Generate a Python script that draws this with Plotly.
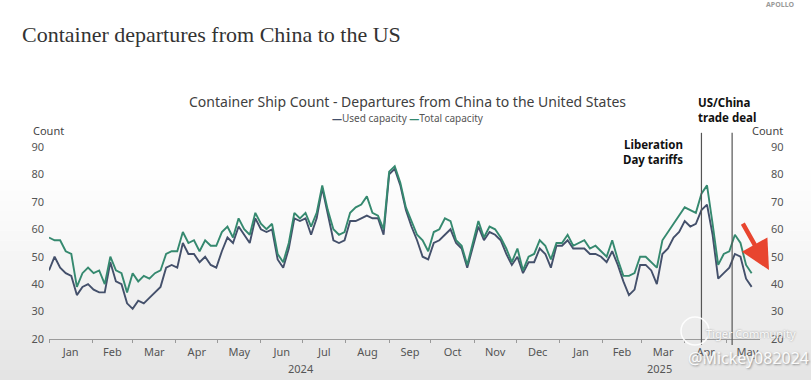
import pandas as pd
import plotly.graph_objects as go

# ---------------- data (4-day steps) ----------------
start_date = "2024-01-01"
n_points = 127
dates = pd.date_range(start_date, periods=n_points, freq="4D")

total_capacity = [
    57, 56, 56, 52, 51, 39, 44, 46, 44, 45, 40, 50, 45, 44, 37, 44, 41, 43, 42, 44,
    45, 51, 52, 52, 59, 55, 56, 52, 56, 54, 54, 59, 61, 57, 64, 60, 58, 66, 62, 60,
    62, 51, 48, 55, 66, 64, 66, 61, 66, 76, 67, 60, 58, 59, 66, 68, 69, 72, 66, 65,
    60, 81, 83, 77, 68, 63, 58, 56, 52, 59, 60, 64, 63, 56, 54, 47, 55, 63, 57, 61,
    60, 57, 53, 48, 53, 45, 50, 51, 56, 54, 49, 55, 55, 58, 54, 55, 56, 53, 54, 52,
    50, 56, 49, 43, 43, 44, 50, 50, 48, 46, 56, 59, 62, 65, 68, 67, 66, 73, 76, 62,
    47, 51, 52, 58, 55, 47, 44,
]
used_capacity = [
    45, 50, 46, 44, 43, 36, 39, 40, 38, 37, 37, 48, 41, 40, 33, 31, 34, 33, 35, 37,
    39, 46, 47, 46, 55, 51, 51, 48, 50, 47, 46, 52, 57, 55, 61, 58, 55, 64, 60, 59,
    60, 49, 46, 53, 64, 63, 64, 58, 64, 75, 66, 56, 55, 56, 63, 63, 64, 65, 64, 64,
    58, 80, 82, 76, 67, 61, 56, 50, 49, 55, 56, 58, 60, 55, 53, 46, 54, 61, 56, 59,
    58, 56, 51, 47, 50, 44, 48, 48, 53, 51, 46, 54, 54, 56, 53, 53, 53, 51, 51, 50,
    48, 52, 47, 41, 36, 38, 47, 47, 45, 40, 51, 53, 57, 59, 63, 61, 62, 67, 69, 58,
    42, 44, 46, 51, 50, 42, 39,
]
series_names = ["Used capacity", "Total capacity"]
y_ticks = [20, 30, 40, 50, 60, 70, 80, 90]
events = [("2025-04-13", "Liberation<br>Day tariffs"), ("2025-05-05", "US/China<br>trade deal")]
year_labels = [("2024-06-30", "2024"), ("2025-03-14", "2025")]

# ---------------- styling ----------------
C_USED = "#44506b"
C_TOTAL = "#35896f"
FONT = "Noto Sans"
W, H = 811, 380
L, R, T, B = 49, 760, 146.7, 339.0
pw, ph = R - L, B - T


def px(xp):
    return (xp - L) / pw


def py(yp):
    return (B - yp) / ph


fig = go.Figure()
fig.add_trace(go.Scatter(x=dates, y=total_capacity, name=series_names[1], mode="lines",
                         line=dict(color=C_TOTAL, width=1.9), yaxis="y2", showlegend=False))
fig.add_trace(go.Scatter(x=dates, y=used_capacity, name=series_names[0], mode="lines",
                         line=dict(color=C_USED, width=1.9), showlegend=False))

shapes = []
# soft background gradient (screen capture look)
top_px, n_bands = 170, 21
for k in range(n_bands):
    y0 = top_px + k * (H - top_px) / n_bands
    y1 = top_px + (k + 1) * (H - top_px) / n_bands
    g = int(round(255 - (255 - 228) * ((k + 1) / n_bands) ** 1.2))
    shapes.append(dict(type="rect", xref="paper", yref="paper", x0=px(0), x1=px(W),
                       y0=py(y1), y1=py(y0), fillcolor=f"rgb({g},{g},{g})",
                       line=dict(width=0), layer="below"))
for d, _ in events:
    shapes.append(dict(type="line", xref="x", yref="paper", x0=d, x1=d, y0=py(345), y1=py(132.5),
                       line=dict(color="#555555", width=1.2)))
# watermark logo circle
shapes.append(dict(type="circle", xref="paper", yref="paper", x0=px(681), x1=px(709),
                   y0=py(345), y1=py(317), line=dict(color="rgba(255,255,255,0.9)", width=1.5)))


def text_ann(text, x, y, size, color="#555555", xref="paper", **kw):
    d = dict(text=text, xref=xref, yref="paper", x=x, y=py(y), showarrow=False,
             xanchor="center", yanchor="middle", font=dict(family=FONT, size=size, color=color))
    d.update(kw)
    return d


ann = []
ann.append(text_ann("Container Ship Count - Departures from China to the United States",
                    px(407.5), 101, 14, "#404040"))
ann.append(text_ann(f"<span style='color:{C_USED}'><b>—</b></span>{series_names[0]} "
                    f"<span style='color:{C_TOTAL}'><b>—</b></span>{series_names[1]}",
                    px(408), 118, 10))
ann.append(text_ann("Count", px(48), 130, 11, "#444444"))
ann.append(text_ann("Count", px(767), 130.5, 11, "#444444"))
ann.append(text_ann("<b>" + events[0][1] + "</b>", events[0][0], 152, 11.5, "#111111", xref="x",
                    xanchor="right", xshift=-16, align="right"))
ann.append(text_ann("<b>" + events[1][1] + "</b>", px(727), 109.5, 11.5, "#111111", align="left"))
for d, t in year_labels:
    ann.append(text_ann(t, d, 369, 11, xref="x"))
# red arrow
ann.append(dict(text="", xref="paper", yref="paper", x=px(769), y=py(270), ax=-27, ay=-48,
                showarrow=True, arrowhead=2, arrowsize=1.3, arrowwidth=4.5, arrowcolor="#e8452f"))
# screen-capture watermarks
ann.append(text_ann("Tiger Community", px(751), 333, 11, "rgba(255,255,255,0.95)"))
ann[-1]["font"]["shadow"] = "0px 0px 2px #8a8a8a"
ann.append(text_ann("@Mickey082024", px(748), 358, 16, "rgba(255,255,255,0.95)"))
ann[-1]["font"]["shadow"] = "1px 1px 2px #8a8a8a"
ann.append(text_ann("<b>APOLLO</b>", px(780), 4, 7, "#9a9a9a"))

axis_font = dict(family=FONT, size=11, color="#555555")
fig.update_layout(
    width=W, height=H,
    margin=dict(l=L, r=W - R, t=T, b=H - B, pad=0),
    paper_bgcolor="white", plot_bgcolor="rgba(0,0,0,0)",
    title=dict(text="Container departures from China to the US", xref="container", yref="container",
               x=22 / W, xanchor="left", y=1 - 34 / H, yanchor="middle",
               font=dict(family="Liberation Serif", size=22, color="#333333")),
    xaxis=dict(type="date", range=["2024-01-01", "2025-05-25"], dtick="M1", tick0="2024-01-01",
               tickformat="%b", ticklabelmode="period", showgrid=False, zeroline=False,
               showline=True, linecolor="#9a9a9a", linewidth=1, ticks="outside", ticklen=3,
               tickcolor="#9a9a9a", tickfont=axis_font),
    yaxis=dict(range=[20, 90], tickvals=y_ticks, showgrid=False, zeroline=False, showline=False,
               ticks="", tickfont=axis_font, ticklabelstandoff=4),
    yaxis2=dict(range=[20, 90], tickvals=y_ticks, overlaying="y", side="right", showgrid=False,
                zeroline=False, showline=False, ticks="", tickfont=axis_font, ticklabelstandoff=10),
    shapes=shapes, annotations=ann, showlegend=False,
)
fig.write_html("out.html", config={"displayModeBar": False},
               post_script="document.body.style.margin='0';document.body.style.overflow='hidden';")
